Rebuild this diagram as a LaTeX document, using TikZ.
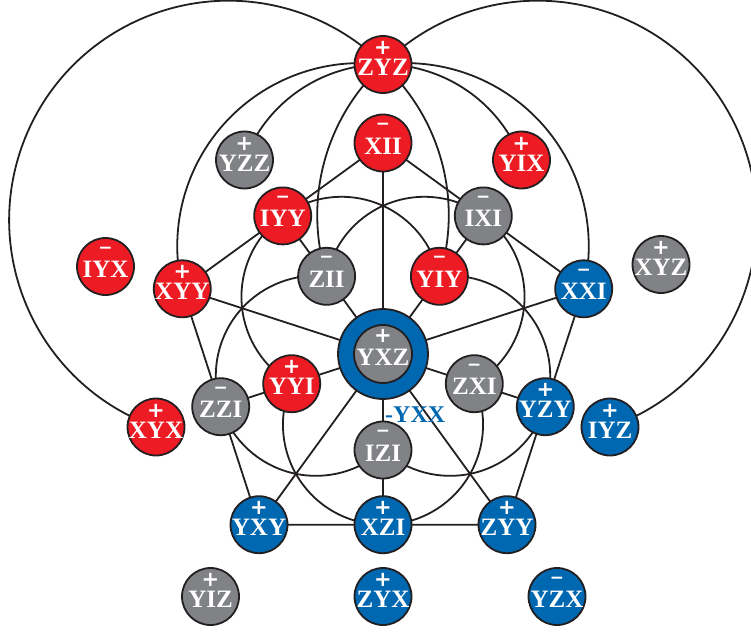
\documentclass[tikz,border=0pt]{standalone}
\usepackage{fontspec}
\setmainfont{Liberation Serif}
\newfontfamily\signfont{DejaVu Sans}
\usetikzlibrary{backgrounds}
\definecolor{pred}{RGB}{237,28,36}
\definecolor{pblue}{RGB}{0,103,177}
\definecolor{pgray}{RGB}{128,130,133}
\definecolor{pline}{RGB}{35,31,32}
\newcommand\psp{{\signfont\fontsize{21}{21}\selectfont\bfseries +}}
\newcommand\psm{{\signfont\fontsize{17}{17}\selectfont\bfseries −}}
\tikzset{
  pcirc/.style={circle, draw=pline, line width=1.8pt, minimum size=57pt, inner sep=0pt},
  ptext/.style={text=white, font=\fontsize{25}{25}\selectfont\bfseries, inner sep=0pt, anchor=base},
  psign/.style={text=white, inner sep=0pt},
  conn/.style={draw=pline, line width=1.8pt},
}
\newcommand\pauli[6]{%
  \node[pcirc, fill=#4] (#1) at (#2,#3) {};
  \node[ptext] (#1-t) at ([yshift=-11pt]#1.center) {#6};
  \node[psign] (#1-s) at ([yshift=16.5pt]#1.center) {#5};
}
\begin{document}
\begin{tikzpicture}[x=1pt,y=1pt]
\useasboundingbox (0,0) rectangle (751,-632);
% centre node
\node[circle, draw=pline, line width=1.8pt, fill=pblue, minimum size=90pt, inner sep=0pt] (YXZ) at (383,-354) {};
\node[pcirc, fill=pgray, minimum size=58pt] (YXZin) at (YXZ.center) {};
\node[ptext] (YXZ-t) at ([yshift=-11pt]YXZ.center) {YXZ};
\node[psign] (YXZ-s) at ([yshift=18pt]YXZ.center) {\psp};
\node[text=pblue, font=\fontsize{24}{24}\selectfont\bfseries, inner sep=0pt, anchor=base west] (YXX) at (385,-422) {-YXX};
% other nodes
\pauli{ZYZ}{383}{-64.5}{pred}{\psp}{ZYZ}
\pauli{XII}{383}{-143}{pred}{\psm}{XII}
\pauli{YZZ}{244.5}{-160}{pgray}{\psp}{YZZ}
\pauli{YIX}{521.5}{-160}{pred}{\psp}{YIX}
\pauli{IYY}{282.7}{-215.9}{pred}{\psm}{IYY}
\pauli{IXI}{483.3}{-215.9}{pgray}{\psm}{IXI}
\pauli{IYX}{105.5}{-266.5}{pred}{\psm}{IYX}
\pauli{XYY}{182.3}{-288.8}{pred}{\psp}{XYY}
\pauli{ZII}{326.6}{-276.3}{pgray}{\psm}{ZII}
\pauli{YIY}{439.4}{-276.3}{pred}{\psm}{YIY}
\pauli{XXI}{583.7}{-288.8}{pblue}{\psm}{XXI}
\pauli{XYZ}{661}{-264.5}{pgray}{\psp}{XYZ}
\pauli{YYI}{291.7}{-383.7}{pred}{\psp}{YYI}
\pauli{ZXI}{474.3}{-383.7}{pgray}{\psm}{ZXI}
\pauli{ZZI}{220.7}{-406.7}{pgray}{\psm}{ZZI}
\pauli{YZY}{545.3}{-406.7}{pblue}{\psp}{YZY}
\pauli{XYX}{156}{-427}{pred}{\psp}{XYX}
\pauli{IYZ}{610}{-427}{pblue}{\psp}{IYZ}
\pauli{IZI}{383}{-450}{pgray}{\psm}{IZI}
\pauli{YXY}{259}{-524.7}{pblue}{\psp}{YXY}
\pauli{XZI}{383}{-524.7}{pblue}{\psp}{XZI}
\pauli{ZYY}{507}{-524.7}{pblue}{\psp}{ZYY}
\pauli{YIZ}{210.5}{-596.5}{pgray}{\psp}{YIZ}
\pauli{ZYX}{383}{-596.5}{pblue}{\psp}{ZYX}
\pauli{YZX}{557}{-596.5}{pblue}{\psm}{YZX}
\begin{pgfonlayer}{background}
\begin{scope}[line width=1.8pt, draw=pline]
  % big outer circles
  \draw[conn] (XYX.center) arc[start angle=250.7, end angle=45.2, radius=219.3];
  \draw[conn] (IYZ.center) arc[start angle=-70.7, end angle=134.8, radius=219.3];
  % medium arcs through ZYZ
  \draw[conn] (XYY.center) arc[start angle=193.5, end angle=82.8, radius=183];
  \draw[conn] (XXI.center) arc[start angle=-13.5, end angle=97.2, radius=183];
  % YZZ - ZYZ - YIX
  \draw[conn] (YZZ.center) arc[start angle=159.2, end angle=20.8, radius=148.2];
  % ZYZ to ZII and YIY
  \draw[conn] (ZII.center) arc[start angle=197.4, end angle=132.7, radius=204.8];
  \draw[conn] (YIY.center) arc[start angle=-17.4, end angle=47.3, radius=204.8];
  % inner arcs
  \foreach \n/\t in {IYY/126, IXI/54, YZY/-18, XZI/-90, ZZI/198} {
    \draw[conn] (\n.center) arc[start angle=\t, delta angle=114.16, radius=100.07];
    \draw[conn] (\n.center) arc[start angle=\t, delta angle=-114.16, radius=100.07];
  }
  % pentagon ring
  \draw[conn] (XII.center) -- (IXI.center) -- (XXI.center) -- (YZY.center) -- (ZYY.center)
        -- (XZI.center) -- (YXY.center) -- (ZZI.center) -- (XYY.center) -- (IYY.center) -- (XII.center);
  % spokes
  \foreach \n in {XII,XXI,ZYY,YXY,XYY,ZII,YIY,ZXI,IZI,YYI} {
    \draw[conn] (YXZ.center) -- (\n.center);
  }
  \draw[conn] (IYY.center) -- (ZII.center);
  \draw[conn] (IXI.center) -- (YIY.center);
  \draw[conn] (YZY.center) -- (ZXI.center);
  \draw[conn] (XZI.center) -- (IZI.center);
  \draw[conn] (ZZI.center) -- (YYI.center);
\end{scope}
\end{pgfonlayer}
\end{tikzpicture}
\end{document}
